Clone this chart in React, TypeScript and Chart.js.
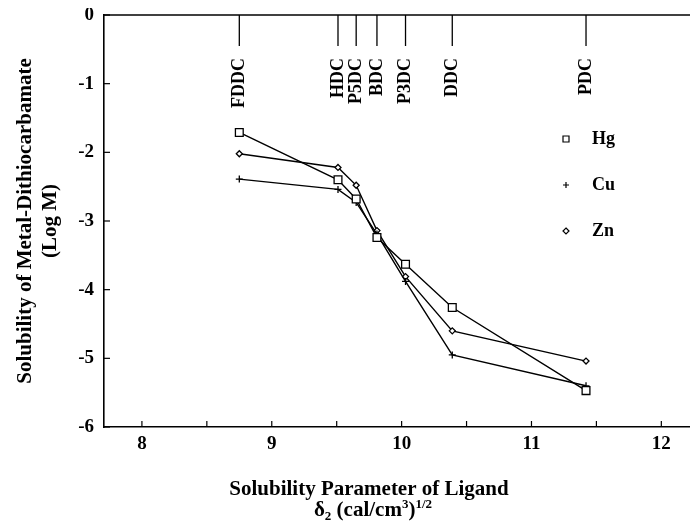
import React, { useEffect, useRef } from "react";
import { Chart, registerables } from "chart.js";

Chart.register(...registerables);

// ---- data ----
const ligandNames = ["FDDC", "HDC", "P5DC", "BDC", "P3DC", "DDC", "PDC"];
const ligandDelta = [8.75, 9.51, 9.65, 9.81, 10.03, 10.39, 11.42];
const hgLogM = [-1.71, -2.4, -2.68, -3.24, -3.63, -4.26, -5.47];
const cuLogM = [-2.39, -2.54, -2.73, -3.19, -3.88, -4.95, -5.4];
const znLogM = [-2.02, -2.22, -2.48, -3.14, -3.81, -4.6, -5.04];
const seriesNames = ["Hg", "Cu", "Zn"];
const xTickValues = [8, 8.5, 9, 9.5, 10, 10.5, 11, 11.5, 12];
const xTickLabels = ["8", "", "9", "", "10", "", "11", "", "12"];
const yTickLabels = ["-6", "-5", "-4", "-3", "-2", "-1", "0"];

const FONT = "'Liberation Serif', 'Times New Roman', serif";

function drawMarker(ctx: CanvasRenderingContext2D, style: string, x: number, y: number, r: number) {
  ctx.beginPath();
  if (style === "rect") {
    ctx.rect(x - r, y - r, 2 * r, 2 * r);
    ctx.fillStyle = "#fff";
    ctx.fill();
    ctx.stroke();
  } else if (style === "cross") {
    ctx.moveTo(x - r, y);
    ctx.lineTo(x + r, y);
    ctx.moveTo(x, y - r);
    ctx.lineTo(x, y + r);
    ctx.stroke();
  } else {
    ctx.moveTo(x, y - r);
    ctx.lineTo(x + r, y);
    ctx.lineTo(x, y + r);
    ctx.lineTo(x - r, y);
    ctx.closePath();
    ctx.fillStyle = "#fff";
    ctx.fill();
    ctx.stroke();
  }
}

const overlay = {
  id: "overlay",
  afterDraw(chart: any) {
    const { ctx, chartArea: ca, scales } = chart;
    const xs = scales.x;
    const ys = scales.y;
    ctx.save();
    ctx.strokeStyle = "#000";
    ctx.fillStyle = "#000";

    // top frame line
    ctx.lineWidth = 1.6;
    ctx.beginPath();
    ctx.moveTo(ca.left, ca.top);
    ctx.lineTo(ca.right, ca.top);
    ctx.stroke();

    // inward ticks
    ctx.lineWidth = 1.2;
    xs.ticks.forEach((t: any) => {
      const px = xs.getPixelForValue(t.value);
      ctx.beginPath();
      ctx.moveTo(px, ca.bottom);
      ctx.lineTo(px, ca.bottom - 6);
      ctx.stroke();
    });
    ys.ticks.forEach((t: any) => {
      const py = ys.getPixelForValue(t.value);
      ctx.beginPath();
      ctx.moveTo(ca.left, py);
      ctx.lineTo(ca.left + 6, py);
      ctx.stroke();
    });

    // ligand markers along top
    ctx.lineWidth = 1.3;
    ctx.font = `bold 18px ${FONT}`;
    ligandNames.forEach((name, i) => {
      const px = xs.getPixelForValue(ligandDelta[i]);
      ctx.beginPath();
      ctx.moveTo(px, ca.top);
      ctx.lineTo(px, ca.top + 31);
      ctx.stroke();
      ctx.save();
      ctx.translate(px, ca.top + 43);
      ctx.rotate(-Math.PI / 2);
      ctx.textAlign = "right";
      ctx.textBaseline = "middle";
      ctx.fillText(name, 0, 0);
      ctx.restore();
    });

    // legend
    const styles = ["rect", "cross", "rectRot"];
    const sizes = [3, 3, 3];
    const legendY = [131, 177, 223];
    ctx.font = `bold 18px ${FONT}`;
    ctx.textAlign = "left";
    ctx.textBaseline = "middle";
    seriesNames.forEach((n, i) => {
      ctx.lineWidth = 1.2;
      drawMarker(ctx, styles[i], 558, legendY[i], sizes[i]);
      ctx.fillStyle = "#000";
      ctx.fillText(n, 584, legendY[i]);
    });

    // y title
    const cy = (ca.top + ca.bottom) / 2;
    ctx.save();
    ctx.font = `bold 21px ${FONT}`;
    ctx.textAlign = "center";
    ctx.textBaseline = "middle";
    ctx.translate(18, cy);
    ctx.rotate(-Math.PI / 2);
    ctx.fillText("Solubility of Metal-Dithiocarbamate", 0, 0);
    ctx.restore();
    ctx.save();
    ctx.font = `bold 21px ${FONT}`;
    ctx.textAlign = "center";
    ctx.textBaseline = "middle";
    ctx.translate(43, cy);
    ctx.rotate(-Math.PI / 2);
    ctx.fillText("(Log M)", 0, 0);
    ctx.restore();

    // x title
    ctx.font = `bold 21px ${FONT}`;
    ctx.textAlign = "center";
    ctx.textBaseline = "alphabetic";
    ctx.fillText("Solubility Parameter of Ligand", 361, 487);
    const parts: [string, number, number][] = [
      ["δ", 21, 0],
      ["2", 13, 4],
      [" (cal/cm", 21, 0],
      ["3", 13, -8],
      [")", 21, 0],
      ["1/2", 13, -8],
    ];
    let total = 0;
    parts.forEach(([s, sz]) => {
      ctx.font = `bold ${sz}px ${FONT}`;
      total += ctx.measureText(s).width;
    });
    let x = 365 - total / 2;
    ctx.textAlign = "left";
    parts.forEach(([s, sz, dy]) => {
      ctx.font = `bold ${sz}px ${FONT}`;
      ctx.fillText(s, x, 508 + dy);
      x += ctx.measureText(s).width;
    });

    ctx.restore();
  },
};

export default function App() {
  const ref = useRef<HTMLCanvasElement>(null);
  useEffect(() => {
    const canvas = ref.current;
    if (!canvas) return;
    const mk = (vals: number[]) => ligandDelta.map((x, i) => ({ x, y: vals[i] }));
    const common = {
      showLine: true,
      borderColor: "#000",
      borderWidth: 1.4,
      pointBorderColor: "#000",
      pointBackgroundColor: "#fff",
      pointBorderWidth: 1.3,
      tension: 0,
    };
    const chart = new Chart(canvas, {
      type: "scatter",
      data: {
        datasets: [
          { ...common, label: seriesNames[0], data: mk(hgLogM), pointStyle: "rect", pointRadius: 5.5 },
          { ...common, label: seriesNames[1], data: mk(cuLogM), pointStyle: "cross", pointRadius: 3.5 },
          { ...common, label: seriesNames[2], data: mk(znLogM), pointStyle: "rectRot", pointRadius: 3 },
        ],
      },
      options: {
        responsive: false,
        animation: false,
        layout: { padding: { top: 7, right: 0, left: 0, bottom: 0 } },
        plugins: { legend: { display: false }, tooltip: { enabled: false } },
        scales: {
          x: {
            type: "linear",
            min: 7.708,
            max: 12.23,
            afterBuildTicks: (s: any) => {
              s.ticks = xTickValues.map((v) => ({ value: v }));
            },
            afterFit: (s: any) => {
              s.height = 101;
              s.paddingLeft = 0;
              s.paddingRight = 0;
            },
            grid: { display: false, drawTicks: false },
            border: { display: true, color: "#000", width: 1.6 },
            ticks: {
              autoSkip: false,
              maxRotation: 0,
              padding: 6,
              color: "#000",
              font: { family: FONT, size: 19, weight: "bold" },
              callback: (_v: any, i: number) => xTickLabels[i],
            },
          },
          y: {
            min: -6,
            max: 0,
            afterBuildTicks: (s: any) => {
              s.ticks = yTickLabels.map((l) => ({ value: Number(l) }));
            },
            afterFit: (s: any) => {
              s.width = 96;
              s.paddingTop = 0;
              s.paddingBottom = 0;
            },
            grid: { display: false, drawTicks: false },
            border: { display: true, color: "#000", width: 1.6 },
            ticks: {
              padding: 10,
              color: "#000",
              font: { family: FONT, size: 19, weight: "bold" },
              callback: (_v: any, i: number) => yTickLabels[i],
            },
          },
        },
      },
      plugins: [overlay],
    } as any);
    return () => chart.destroy();
  }, []);
  return <canvas ref={ref} width={690} height={520} style={{ display: "block" }} />;
}
